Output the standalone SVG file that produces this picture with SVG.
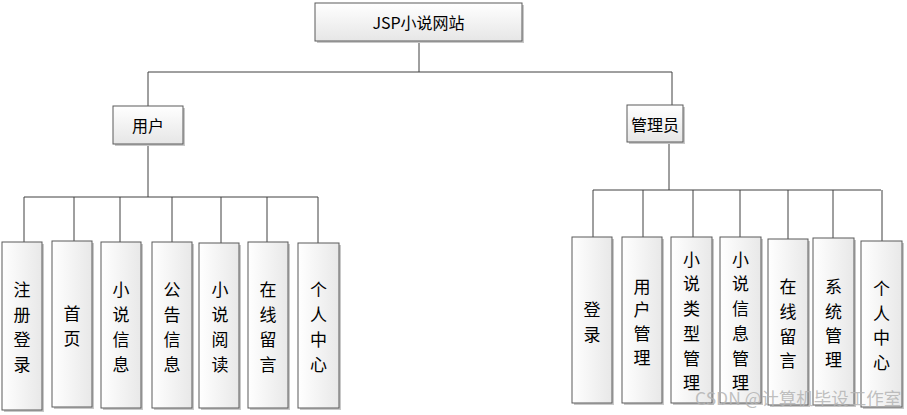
<svg xmlns="http://www.w3.org/2000/svg" width="907" height="415" viewBox="0 0 907 415">
<defs>
<linearGradient id="g" x1="0" y1="0" x2="0" y2="1">
<stop offset="0" stop-color="#ffffff"/>
<stop offset="1" stop-color="#e6e6e6"/>
</linearGradient>
<linearGradient id="gv" x1="0" y1="0" x2="1" y2="0">
<stop offset="0" stop-color="#ffffff"/>
<stop offset="1" stop-color="#e8e8e8"/>
</linearGradient>
</defs>
<style>
.box{fill:url(#g);stroke:#5a5a5a;stroke-width:1}
.cbox{fill:url(#gv);stroke:#5a5a5a;stroke-width:1}
.sh{fill:#c8c8c8}
.t{font-family:"Noto Sans CJK SC","Liberation Sans",sans-serif;font-size:16px;fill:#000;text-anchor:middle;dominant-baseline:central}
.v{font-family:"Noto Sans CJK SC",sans-serif;font-size:17px;fill:#000;text-anchor:middle;dominant-baseline:central}
.ln{stroke:#404040;stroke-width:1;fill:none}
.wm{font-family:"Noto Sans CJK SC","Liberation Sans",sans-serif;font-size:17.5px;fill:#b4b4b4;fill-opacity:0.85}
</style>
<g id="connectors">
<path class="ln" d="M419 41V72M148 72H672M148 72V106M672 72V105"/>
<path class="ln" d="M148 144V197M24 197H318M24 197V242M74 197V241M120 197V242M172 197V242M221 197V243M267 197V242M318 197V243"/>
<path class="ln" d="M669 142V190M593 190H881M593 190V237M643 190V237M693 190V237M740 190V237M788 190V239M833 190V238M882 190V241"/>
</g>
<g id="root">
<rect class="sh" x="317" y="5" width="207" height="38"/>
<rect class="box" x="315" y="3" width="207" height="38"/>
<text class="t" x="418.5" y="22">JSP小说网站</text>
</g>
<g id="user">
<rect class="sh" x="115" y="108" width="70" height="38"/>
<rect class="box" x="113" y="106" width="70" height="38"/>
<text class="t" x="148" y="125">用户</text>
</g>
<g id="admin">
<rect class="sh" x="629" y="107" width="56" height="37"/>
<rect class="box" x="627" y="105" width="56" height="37"/>
<text class="t" x="655" y="123.5">管理员</text>
</g>
<g id="u1"><rect class="sh" x="4" y="244" width="40" height="168"/><rect class="cbox" x="2" y="242" width="40" height="168"/>
<text class="v" x="22" y="288">注</text><text class="v" x="22" y="313">册</text><text class="v" x="22" y="338">登</text><text class="v" x="22" y="363">录</text></g>
<g id="u2"><rect class="sh" x="54" y="243" width="40" height="166"/><rect class="cbox" x="52" y="241" width="40" height="166"/>
<text class="v" x="72" y="312">首</text><text class="v" x="72" y="337">页</text></g>
<g id="u3"><rect class="sh" x="103" y="244" width="40" height="166"/><rect class="cbox" x="101" y="242" width="40" height="166"/>
<text class="v" x="121" y="288">小</text><text class="v" x="121" y="313">说</text><text class="v" x="121" y="338">信</text><text class="v" x="121" y="363">息</text></g>
<g id="u4"><rect class="sh" x="154" y="244" width="40" height="166"/><rect class="cbox" x="152" y="242" width="40" height="166"/>
<text class="v" x="172" y="288">公</text><text class="v" x="172" y="313">告</text><text class="v" x="172" y="338">信</text><text class="v" x="172" y="363">息</text></g>
<g id="u5"><rect class="sh" x="201" y="245" width="40" height="165"/><rect class="cbox" x="199" y="243" width="40" height="165"/>
<text class="v" x="220" y="288">小</text><text class="v" x="220" y="313">说</text><text class="v" x="220" y="338">阅</text><text class="v" x="220" y="363">读</text></g>
<g id="u6"><rect class="sh" x="250" y="244" width="40" height="166"/><rect class="cbox" x="248" y="242" width="40" height="166"/>
<text class="v" x="268" y="288">在</text><text class="v" x="268" y="313">线</text><text class="v" x="268" y="338">留</text><text class="v" x="268" y="363">言</text></g>
<g id="u7"><rect class="sh" x="300" y="245" width="41" height="165"/><rect class="cbox" x="298" y="243" width="41" height="165"/>
<text class="v" x="318.5" y="288">个</text><text class="v" x="318.5" y="313">人</text><text class="v" x="318.5" y="338">中</text><text class="v" x="318.5" y="363">心</text></g>
<g id="a1"><rect class="sh" x="574" y="239" width="40" height="166"/><rect class="cbox" x="572" y="237" width="40" height="166"/>
<text class="v" x="592" y="308">登</text><text class="v" x="592" y="333">录</text></g>
<g id="a2"><rect class="sh" x="624" y="239" width="40" height="166"/><rect class="cbox" x="622" y="237" width="40" height="166"/>
<text class="v" x="642" y="285">用</text><text class="v" x="642" y="308">户</text><text class="v" x="642" y="332">管</text><text class="v" x="642" y="356">理</text></g>
<g id="a3"><rect class="sh" x="673" y="239" width="41" height="166"/><rect class="cbox" x="671" y="237" width="41" height="166"/>
<text class="v" x="691.5" y="258">小</text><text class="v" x="691.5" y="282">说</text><text class="v" x="691.5" y="307">类</text><text class="v" x="691.5" y="332">型</text><text class="v" x="691.5" y="357">管</text><text class="v" x="691.5" y="381">理</text></g>
<g id="a4"><rect class="sh" x="722" y="239" width="41" height="166"/><rect class="cbox" x="720" y="237" width="41" height="166"/>
<text class="v" x="740.5" y="258">小</text><text class="v" x="740.5" y="282">说</text><text class="v" x="740.5" y="307">信</text><text class="v" x="740.5" y="332">息</text><text class="v" x="740.5" y="357">管</text><text class="v" x="740.5" y="381">理</text></g>
<g id="a5"><rect class="sh" x="770" y="241" width="40" height="166"/><rect class="cbox" x="768" y="239" width="40" height="166"/>
<text class="v" x="788" y="285">在</text><text class="v" x="788" y="310">线</text><text class="v" x="788" y="335">留</text><text class="v" x="788" y="359">言</text></g>
<g id="a6"><rect class="sh" x="815" y="240" width="41" height="167"/><rect class="cbox" x="813" y="238" width="41" height="167"/>
<text class="v" x="833.5" y="285">系</text><text class="v" x="833.5" y="310">统</text><text class="v" x="833.5" y="334">管</text><text class="v" x="833.5" y="358">理</text></g>
<g id="a7"><rect class="sh" x="863" y="243" width="41" height="166"/><rect class="cbox" x="861" y="241" width="41" height="166"/>
<text class="v" x="881.5" y="287">个</text><text class="v" x="881.5" y="312">人</text><text class="v" x="881.5" y="336">中</text><text class="v" x="881.5" y="361">心</text></g>
<text class="wm" x="695" y="405">CSDN @计算机毕设工作室</text>
</svg>
